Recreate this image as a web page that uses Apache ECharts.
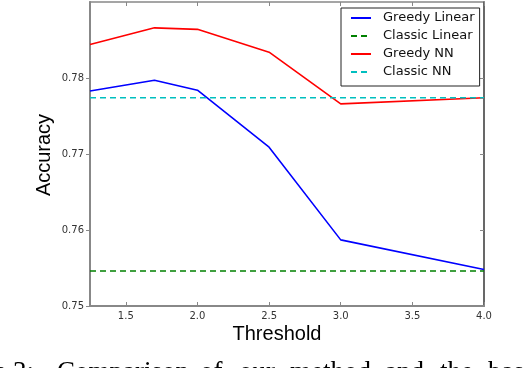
<!DOCTYPE html>
<html>
<head>
<meta charset="utf-8">
<script src="https://cdn.jsdelivr.net/npm/echarts@6/dist/echarts.min.js"></script>
<style>
html,body{margin:0;padding:0;background:#fff;}
#chart{width:526px;height:368px;}
</style>
</head>
<body>
<div id="chart"></div>
<script>
// Data
const thresholds = [1.25, 1.7, 2.0, 2.5, 3.0, 4.0];
const greedyLinear = [0.7783, 0.7797, 0.7784, 0.7709, 0.7587, 0.7548];
const classicLinear = [0.7546, 0.7546, 0.7546, 0.7546, 0.7546, 0.7546];
const greedyNN = [0.7844, 0.7866, 0.7864, 0.7834, 0.7766, 0.7774];
const classicNN = [0.7774, 0.7774, 0.7774, 0.7774, 0.7774, 0.7774];
const xTicks = [1.5, 2.0, 2.5, 3.0, 3.5, 4.0];
const yTicks = [0.75, 0.76, 0.77, 0.78];
const seriesNames = ['Greedy Linear', 'Classic Linear', 'Greedy NN', 'Classic NN'];
const captionLabel = 'Figure 3:';
const captionWords = ['Comparison', 'of', 'our', 'method', 'and', 'the', 'baseline'];
const captionWordX = [57, 200, 239, 290, 385, 440, 488];

const pairs = (ys) => thresholds.map((x, i) => [x, ys[i]]);

const chart = echarts.init(document.getElementById('chart'), null, {renderer: 'canvas'});

const tickFont = {fontFamily: 'DejaVu Sans', fontSize: 10, color: '#333'};
const captionStyle = {fontFamily: 'Liberation Serif', fontSize: 27, fill: '#000', verticalAlign: 'top'};

const graphics = [
  {type: 'text', x: 44, y: 155, rotation: Math.PI / 2,
   style: {text: 'Accuracy', fontFamily: 'Liberation Sans', fontSize: 20, fill: '#000', align: 'center', verticalAlign: 'middle'}},
  {type: 'text', x: 277, y: 334,
   style: {text: 'Threshold', fontFamily: 'Liberation Sans', fontSize: 20, fill: '#000', align: 'center', verticalAlign: 'middle'}},
  {type: 'text', x: 34, y: 359, style: Object.assign({text: captionLabel, align: 'right'}, captionStyle)}
];
captionWords.forEach((w, i) => {
  graphics.push({type: 'text', x: captionWordX[i], y: 359, style: Object.assign({text: w, align: 'left'}, captionStyle)});
});

const option = {
  animation: false,
  backgroundColor: '#fff',
  grid: {left: 90, right: 42, top: 2, bottom: 62, show: true, borderColor: '#888', borderWidth: 1.5, backgroundColor: 'transparent'},
  xAxis: [{
    type: 'value', min: 1.25, max: 4.0,
    axisLine: {show: true, lineStyle: {color: '#888', width: 2}},
    axisTick: {show: true, inside: true, length: 4, lineStyle: {color: '#888'}, customValues: xTicks},
    axisLabel: {show: true, margin: 5, ...tickFont, customValues: xTicks, formatter: v => v.toFixed(1)},
    splitLine: {show: false}
  }, {
    type: 'value', min: 1.25, max: 4.0, position: 'top',
    axisLine: {show: false},
    axisTick: {show: true, inside: true, length: 4, lineStyle: {color: '#888'}, customValues: xTicks},
    axisLabel: {show: false},
    splitLine: {show: false}
  }],
  yAxis: [{
    type: 'value', min: 0.75, max: 0.79,
    axisLine: {show: true, lineStyle: {color: '#888', width: 2}},
    axisTick: {show: true, inside: false, length: 4, lineStyle: {color: '#888'}, customValues: yTicks},
    axisLabel: {show: true, margin: 6, ...tickFont, customValues: yTicks, formatter: v => v.toFixed(2)},
    splitLine: {show: false}
  }, {
    type: 'value', min: 0.75, max: 0.79, position: 'right',
    axisLine: {show: true, lineStyle: {color: '#555', width: 1.5}},
    axisTick: {show: true, inside: true, length: 4, lineStyle: {color: '#888'}, customValues: yTicks},
    axisLabel: {show: false},
    splitLine: {show: false}
  }],
  legend: {
    orient: 'vertical',
    left: 341, top: 8,
    padding: [3, 5, 7, 9],
    itemWidth: 20, itemHeight: 14, itemGap: 4,
    backgroundColor: '#fff',
    borderColor: '#222', borderWidth: 1, borderRadius: 0,
    itemStyle: {opacity: 0},
    lineStyle: {width: 2},
    textStyle: {fontFamily: 'DejaVu Sans', fontSize: 13, color: '#111', lineHeight: 14, padding: [0, 0, 0, 7]},
    data: seriesNames
  },
  series: [
    {name: seriesNames[0], type: 'line', data: pairs(greedyLinear), symbol: 'none', lineStyle: {color: '#0000ff', width: 1.6}, itemStyle: {color: '#0000ff'}, z: 3},
    {name: seriesNames[1], type: 'line', data: pairs(classicLinear), symbol: 'none', lineStyle: {color: '#008000', width: 1.6, type: [6, 4]}, itemStyle: {color: '#008000'}, z: 4},
    {name: seriesNames[2], type: 'line', data: pairs(greedyNN), symbol: 'none', lineStyle: {color: '#ff0000', width: 1.6}, itemStyle: {color: '#ff0000'}, z: 3},
    {name: seriesNames[3], type: 'line', data: pairs(classicNN), symbol: 'none', lineStyle: {color: '#00bfbf', width: 1.6, type: [6, 4]}, itemStyle: {color: '#00bfbf'}, z: 4}
  ],
  graphic: graphics
};
chart.setOption(option);
</script>
</body>
</html>
